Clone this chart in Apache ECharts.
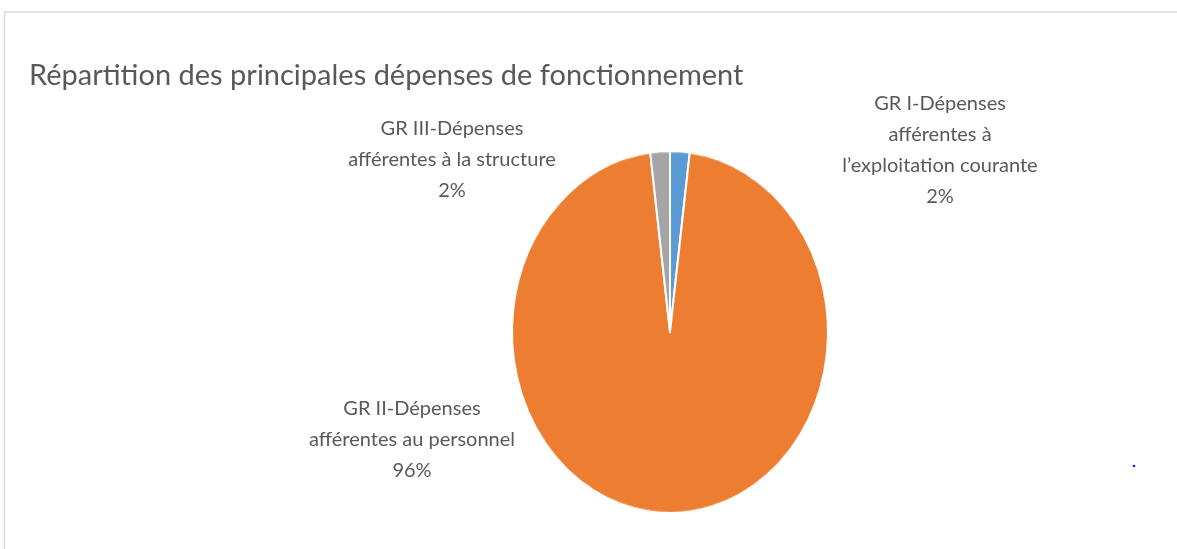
<!DOCTYPE html>
<html>
<head>
<meta charset="utf-8">
<script src="https://cdn.jsdelivr.net/npm/echarts@6/dist/echarts.min.js"></script>
<style>
  html, body { margin: 0; padding: 0; background: #fff; }
  .layer { position: absolute; left: 0; top: 0; width: 1177px; height: 549px; }
  /* the reference pie is an ellipse: stretch the pie layer vertically */
  #pieLayer { transform: scaleY(1.146); transform-origin: 50% 332px; }
</style>
</head>
<body>
<div id="pieLayer" class="layer"></div>
<div id="textLayer" class="layer"></div>
<script>
// --- data ---
const categories = [
  "GR I-Dépenses\nafférentes à\nl’exploitation courante",
  "GR II-Dépenses\nafférentes au personnel",
  "GR III-Dépenses\nafférentes à la structure"
];
const values = [2, 96, 2];
const colors = ["#5B9BD5", "#ED7D31", "#A5A5A5"];

// label block centres (layout only)
const labelPos = [[940, 150], [412, 440], [452, 160]];

const pieData = categories.map((name, i) => ({ name: name, value: values[i] }));

// bottom layer: the visible pie, stretched in y by CSS
const pieChart = echarts.init(document.getElementById('pieLayer'), null, { renderer: 'canvas' });
pieChart.setOption({
  animation: false,
  series: [{
    type: 'pie',
    center: [670, 332],
    radius: 158,
    startAngle: 90,
    clockwise: true,
    silent: true,
    label: { show: false },
    labelLine: { show: false },
    itemStyle: {
      color: function (p) { return colors[p.dataIndex]; },
      borderColor: '#ffffff',
      borderWidth: 2
    },
    data: pieData
  }]
});

// top layer: title, frame and the data labels
const textChart = echarts.init(document.getElementById('textLayer'));
textChart.setOption({
  animation: false,
  backgroundColor: 'transparent',
  title: {
    text: 'Répartition des principales dépenses de fonctionnement',
    left: 29,
    top: 61,
    padding: 0,
    textStyle: {
      fontFamily: 'Lato',
      fontWeight: 'normal',
      fontSize: 29,
      color: '#595959'
    }
  },
  graphic: [
    { type: 'line', shape: { x1: 4, y1: 12, x2: 1177, y2: 12 }, style: { stroke: '#d9d9d9', lineWidth: 1.5 } },
    { type: 'line', shape: { x1: 4.5, y1: 12, x2: 4.5, y2: 549 }, style: { stroke: '#d9d9d9', lineWidth: 1.5 } },
    { type: 'circle', shape: { cx: 1134, cy: 466, r: 1.3 }, style: { fill: '#1a1aff' } }
  ],
  series: [{
    type: 'pie',
    center: [670, 332],
    radius: 158,
    startAngle: 90,
    silent: true,
    percentPrecision: 0,
    itemStyle: { color: 'rgba(0,0,0,0)' },
    emphasis: { disabled: true },
    labelLine: { show: false },
    label: {
      show: true,
      formatter: '{b}\n{d}%',
      fontFamily: 'Lato',
      fontSize: 20,
      lineHeight: 31,
      color: '#595959',
      align: 'center'
    },
    labelLayout: function (p) {
      const pos = labelPos[p.dataIndex];
      return { x: pos[0], y: pos[1], align: 'center', verticalAlign: 'middle' };
    },
    data: pieData
  }]
});
</script>
</body>
</html>
